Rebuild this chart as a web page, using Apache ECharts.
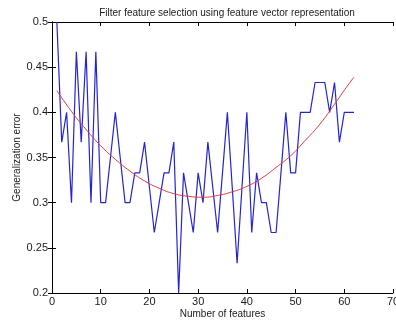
<!DOCTYPE html>
<html>
<head>
<meta charset="utf-8">
<script src="https://cdn.jsdelivr.net/npm/echarts@6/dist/echarts.min.js"></script>
<style>
  html, body { margin: 0; padding: 0; background: #ffffff; }
  #chart { width: 396px; height: 326px; }
</style>
</head>
<body>
<div id="chart"></div>
<script>
// Generalization error per number of features (blue line)
const featureCounts = [
  1, 2, 3, 4, 5, 6, 7, 8, 9, 10,
  11, 12, 13, 14, 15, 16, 17, 18, 19, 20,
  21, 22, 23, 24, 25, 26, 27, 28, 29, 30,
  31, 32, 33, 34, 35, 36, 37, 38, 39, 40,
  41, 42, 43, 44, 45, 46, 47, 48, 49, 50,
  51, 52, 53, 54, 55, 56, 57, 58, 59, 60,
  61, 62,
];
const errorValues = [
  0.5, 0.367, 0.4, 0.3, 0.467, 0.367, 0.467, 0.3, 0.467, 0.3,
  0.3, 0.35, 0.4, 0.35, 0.3, 0.3, 0.333, 0.333, 0.367, 0.317,
  0.267, 0.3, 0.333, 0.333, 0.367, 0.2, 0.333, 0.3, 0.267, 0.333,
  0.3, 0.367, 0.317, 0.267, 0.333, 0.4, 0.317, 0.233, 0.317, 0.4,
  0.267, 0.333, 0.3, 0.3, 0.267, 0.267, 0.333, 0.4, 0.333, 0.333,
  0.4, 0.4, 0.4, 0.433, 0.433, 0.433, 0.4, 0.433, 0.367, 0.4,
  0.4, 0.4,
];

// Smooth fitted trend (red curve)
const trendX = [1, 4, 7, 10, 13, 16, 19, 22, 25, 28, 31, 34, 37, 40, 43, 46, 49, 52, 55, 58, 61, 62];
const trendY = [
  0.424, 0.401, 0.381, 0.363, 0.348, 0.335, 0.324, 0.316, 0.310, 0.307, 0.306,
  0.308, 0.312, 0.318, 0.327, 0.339, 0.352, 0.369, 0.387, 0.409, 0.432, 0.439,
];

const titleText = "Filter feature selection using feature vector representation";
const xAxisLabel = "Number of features";
const yAxisLabel = "Generalization error";

const FONT = "'Liberation Sans', Arial, sans-serif";
const TEXT_COLOR = "#1a1a1a";

const chart = echarts.init(document.getElementById("chart"), null, { renderer: "canvas" });

const axisLine = { show: true, lineStyle: { color: "#000000", width: 1 } };
const axisTick = { show: true, inside: true, length: 4, lineStyle: { color: "#000000", width: 1 } };

const option = {
  animation: false,
  backgroundColor: "#ffffff",
  title: {
    text: titleText,
    left: 222,
    top: 3,
    textAlign: "center",
    textStyle: { color: TEXT_COLOR, fontSize: 10, fontWeight: "normal", fontFamily: FONT },
  },
  grid: {
    left: 52,
    right: 3,
    top: 22,
    bottom: 33,
    containLabel: false,
    outerBoundsMode: "none",
  },
  xAxis: [
    {
      type: "value",
      min: 0,
      max: 70,
      interval: 10,
      name: xAxisLabel,
      nameLocation: "middle",
      nameGap: 16,
      nameMoveOverlap: false,
      nameTextStyle: { color: TEXT_COLOR, fontSize: 10, fontFamily: FONT },
      axisLine,
      axisTick,
      axisLabel: { color: TEXT_COLOR, fontSize: 11, fontFamily: FONT, margin: 3 },
      splitLine: { show: false },
    },
    {
      type: "value",
      position: "top",
      min: 0,
      max: 70,
      interval: 10,
      axisLine,
      axisTick,
      axisLabel: { show: false },
      splitLine: { show: false },
    },
  ],
  yAxis: [
    {
      type: "value",
      min: 0.2,
      max: 0.5,
      interval: 0.05,
      name: yAxisLabel,
      nameLocation: "middle",
      nameGap: 30,
      nameMoveOverlap: false,
      nameTextStyle: { color: TEXT_COLOR, fontSize: 10, fontFamily: FONT },
      axisLine,
      axisTick,
      axisLabel: {
        color: TEXT_COLOR,
        fontSize: 11,
        fontFamily: FONT,
        margin: 4,
        formatter: (v) => String(Math.round(v * 100) / 100),
      },
      splitLine: { show: false },
    },
    {
      type: "value",
      position: "right",
      min: 0.2,
      max: 0.5,
      interval: 0.05,
      axisLine,
      axisTick,
      axisLabel: { show: false },
      splitLine: { show: false },
    },
  ],
  series: [
    {
      name: "error",
      type: "line",
      data: featureCounts.map((x, i) => [x, errorValues[i]]),
      showSymbol: false,
      lineStyle: { color: "#2424d2", width: 1.2 },
      z: 2,
    },
    {
      name: "trend",
      type: "line",
      data: trendX.map((x, i) => [x, trendY[i]]),
      smooth: true,
      showSymbol: false,
      lineStyle: { color: "#e03a3a", width: 1 },
      z: 3,
    },
  ],
};

chart.setOption(option);
</script>
</body>
</html>
